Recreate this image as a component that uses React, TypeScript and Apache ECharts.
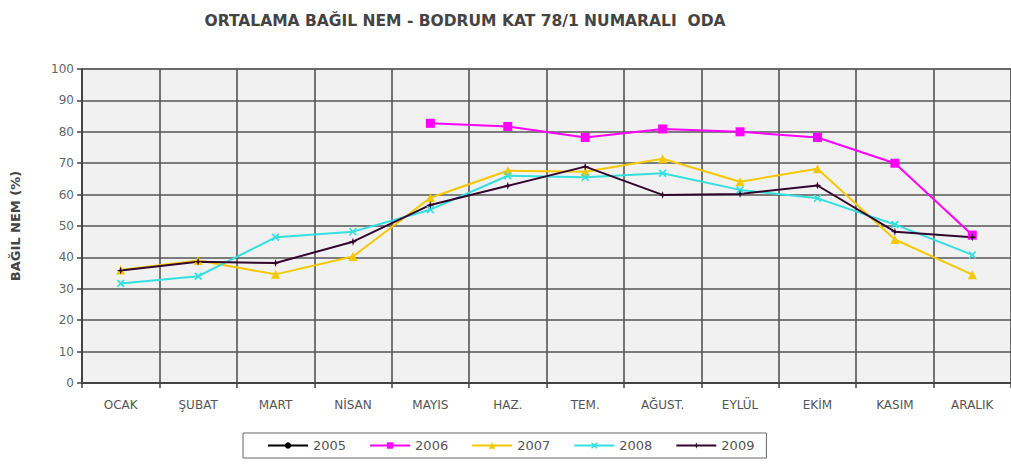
import React, { useEffect, useRef } from "react";
import * as echarts from "echarts";

const months = ["OCAK", "ŞUBAT", "MART", "NİSAN", "MAYIS", "HAZ.", "TEM.", "AĞUST.", "EYLÜL", "EKİM", "KASIM", "ARALIK"];
const yTicks = [0, 10, 20, 30, 40, 50, 60, 70, 80, 90, 100];
const s2005: (number | null)[] = [null, null, null, null, null, null, null, null, null, null, null, null];
const s2006: (number | null)[] = [null, null, null, null, 82.7, 81.7, 78.2, 80.9, 80.0, 78.2, 70.0, 47.1];
const s2007: (number | null)[] = [36.0, 39.0, 34.6, 40.3, 59.0, 67.6, 67.3, 71.4, 64.1, 68.2, 45.7, 34.5];
const s2008: (number | null)[] = [31.7, 34.0, 46.4, 48.2, 55.2, 66.0, 65.5, 66.8, 61.5, 58.8, 50.5, 40.8];
const s2009: (number | null)[] = [35.8, 38.6, 38.2, 45.0, 56.7, 62.8, 68.9, 59.9, 60.2, 62.9, 48.2, 46.4];

const xSym = "path://M0,1.5 L1.5,0 L5,3.5 L8.5,0 L10,1.5 L6.5,5 L10,8.5 L8.5,10 L5,6.5 L1.5,10 L0,8.5 L3.5,5 Z";
const starSym = "path://M5,0 L6.2,3.8 L10,5 L6.2,6.2 L5,10 L3.8,6.2 L0,5 L3.8,3.8 Z";

export default function App() {
  const ref = useRef<HTMLDivElement>(null);
  useEffect(() => {
    if (!ref.current) return;
    const chart = echarts.init(ref.current, undefined, { renderer: "svg" });
    const font = "'DejaVu Sans', Verdana, sans-serif";
    const mk = (name: string, data: (number | null)[], color: string, symbol: string, size: number) => ({
      name,
      type: "line",
      data,
      symbol,
      symbolSize: size,
      showSymbol: true,
      lineStyle: { color, width: 2 },
      itemStyle: { color },
      connectNulls: false,
    });
    chart.setOption({
      animation: false,
      backgroundColor: "#ffffff",
      textStyle: { fontFamily: font },
      title: {
        text: "ORTALAMA BAĞIL NEM - BODRUM KAT 78/1 NUMARALI  ODA",
        left: 460,
        top: 8,
        textAlign: "center",
        textStyle: { fontSize: 15.5, fontWeight: "bold", color: "#444", fontFamily: font },
      },
      grid: {
        left: 82,
        top: 69,
        width: 930,
        height: 314,
        show: true,
        backgroundColor: "#f1f1f1",
        borderColor: "#555",
        borderWidth: 1,
      },
      legend: {
        left: 243,
        top: 433,
        itemWidth: 40,
        itemHeight: 8,
        itemGap: 23,
        padding: [6, 12, 6, 24],
        borderColor: "#666",
        borderWidth: 1,
        backgroundColor: "#fff",
        textStyle: { fontSize: 13, color: "#555", fontFamily: font },
        data: ["2005", "2006", "2007", "2008", "2009"],
      },
      xAxis: {
        type: "category",
        data: months,
        boundaryGap: true,
        axisLine: { lineStyle: { color: "#444", width: 2 } },
        axisTick: { show: true, length: 5, lineStyle: { color: "#444", width: 1.5 } },
        axisLabel: { fontSize: 12, color: "#555", margin: 16, interval: 0, fontFamily: font },
        splitLine: { show: true, interval: 0, lineStyle: { color: "#555", width: 1.6 } },
      },
      yAxis: {
        type: "value",
        min: 0,
        max: 100,
        interval: 10,
        name: "BAĞIL NEM (%)",
        nameLocation: "middle",
        nameRotate: 90,
        nameGap: 60,
        nameTextStyle: { fontSize: 13, fontWeight: "bold", color: "#444", fontFamily: font },
        axisLine: { show: true, lineStyle: { color: "#444", width: 2 } },
        axisTick: { show: true, length: 5, lineStyle: { color: "#444", width: 1.5 } },
        axisLabel: { fontSize: 12, color: "#666", margin: 8, fontFamily: font, formatter: (v: number) => (yTicks.includes(v) ? String(v) : "") },
        splitLine: { show: true, lineStyle: { color: "#555", width: 1.6 } },
      },
      series: [
        mk("2005", s2005, "#000000", "circle", 5),
        mk("2006", s2006, "#ff00ff", "rect", 9),
        mk("2007", s2007, "#f5c800", "triangle", 9),
        mk("2008", s2008, "#33e0e0", xSym, 8),
        mk("2009", s2009, "#33062e", starSym, 8),
      ],
    });
    return () => chart.dispose();
  }, []);
  return <div ref={ref} style={{ position: "fixed", left: 0, top: 0, width: 1011, height: 469 }} />;
}
